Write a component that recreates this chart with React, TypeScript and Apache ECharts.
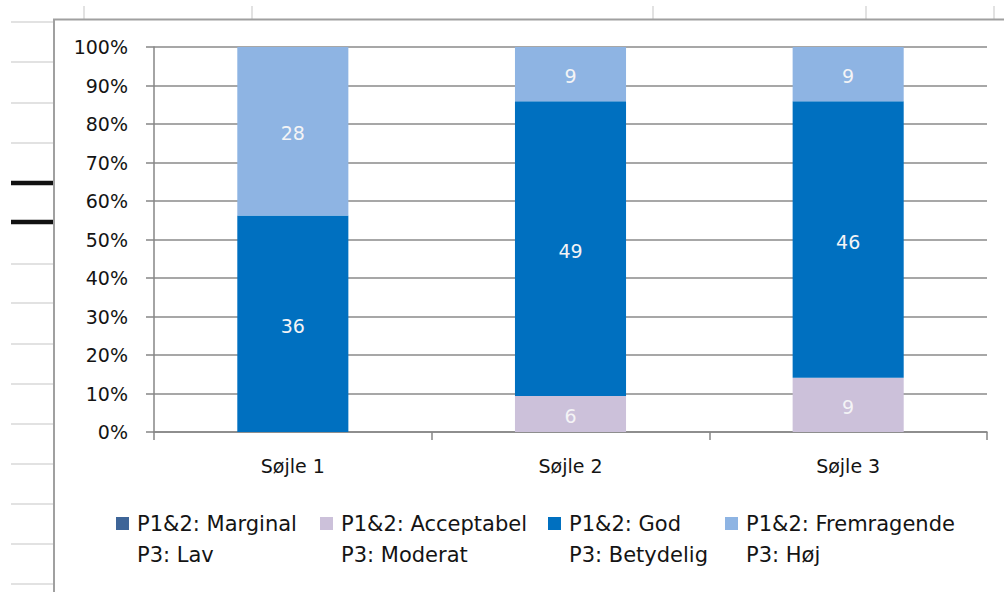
import React, { useEffect, useRef } from "react";
import * as echarts from "echarts";

const categories = ["Søjle 1", "Søjle 2", "Søjle 3"];
const seriesNames = [
  "P1&2: Marginal\nP3: Lav",
  "P1&2: Acceptabel\nP3: Moderat",
  "P1&2: God\nP3: Betydelig",
  "P1&2: Fremragende\nP3: Høj",
];
const marginal = [0, 0, 0];
const acceptabel = [0, 6, 9];
const god = [36, 49, 46];
const fremragende = [28, 9, 9];
const yTicks = [0, 10, 20, 30, 40, 50, 60, 70, 80, 90, 100];
const colors = ["#3e6598", "#ccc1da", "#0070c0", "#8eb4e3"];

const FONT = "DejaVu Sans";

export default function App() {
  const ref = useRef<HTMLDivElement>(null);
  useEffect(() => {
    if (!ref.current) return;
    const chart = echarts.init(ref.current, null, { renderer: "svg" });
    const raw = [marginal, acceptabel, god, fremragende];
    const totals = categories.map((_, i) => raw.reduce((s, arr) => s + arr[i], 0));

    const series = raw.map((arr, si) => ({
      name: seriesNames[si],
      type: "bar",
      stack: "total",
      barWidth: "40%",
      itemStyle: { color: colors[si] },
      data: arr.map((v, i) => ({ value: (v / totals[i]) * 100, raw: v })),
      label: {
        show: true,
        position: "inside",
        offset: [0, 2],
        color: "#f4f4f6",
        fontFamily: FONT,
        fontSize: 19,
        formatter: (p: any) => (p.data.raw > 0 ? String(p.data.raw) : ""),
      },
    }));

    // square at top-left of a 16x44 icon box, so it lines up with the first text line
    const iconPath = "path://M0,0h13v13h-13z M16,44h0.01v0.01h-0.01z";
    const legendLefts = [116, 320, 548, 725];
    const legends = seriesNames.map((n, i) => ({
      data: [n],
      left: legendLefts[i],
      top: 508,
      padding: 0,
      icon: iconPath,
      itemWidth: 16,
      itemHeight: 44,
      selectedMode: false,
      textStyle: {
        fontFamily: FONT,
        fontSize: 21,
        color: "#141414",
        lineHeight: 31,
      },
    }));

    const gridYs = [22, 62, 103, 143, 264, 303, 344, 384, 424, 464, 504, 544, 584];
    const topXs = [84, 252, 653, 866, 994];
    const graphics: any[] = [];
    gridYs.forEach((y) =>
      graphics.push({
        type: "line",
        z: -10,
        shape: { x1: 11, y1: y, x2: 54, y2: y },
        style: { stroke: "#d9d9d9", lineWidth: 1.5 },
      })
    );
    [183, 222].forEach((y) =>
      graphics.push({
        type: "line",
        z: -10,
        shape: { x1: 11, y1: y, x2: 54, y2: y },
        style: { stroke: "#111111", lineWidth: 4.5 },
      })
    );
    topXs.forEach((x) =>
      graphics.push({
        type: "line",
        z: -10,
        shape: { x1: x, y1: 6, x2: x, y2: 19 },
        style: { stroke: "#d9d9d9", lineWidth: 1.5 },
      })
    );
    graphics.push({
      type: "polyline",
      z: -5,
      shape: { points: [[54, 592], [54, 19.5], [1004, 19.5]] },
      style: { stroke: "#a0a0a0", lineWidth: 2, fill: "none" },
    });

    chart.setOption({
      animation: false,
      backgroundColor: "#ffffff",
      textStyle: { fontFamily: FONT },
      graphic: graphics,
      legend: legends,
      grid: { left: 154, top: 47, right: 17, bottom: 160, containLabel: false },
      xAxis: {
        type: "category",
        data: categories,
        axisLine: { show: true, lineStyle: { color: "#868686", width: 1.5 } },
        axisTick: { show: true, length: 8, lineStyle: { color: "#868686", width: 1.5 } },
        axisLabel: { fontFamily: FONT, fontSize: 19, color: "#141414", margin: 24 },
      },
      yAxis: {
        type: "value",
        min: yTicks[0],
        max: yTicks[yTicks.length - 1],
        interval: yTicks[1] - yTicks[0],
        axisLine: { show: true, lineStyle: { color: "#868686", width: 1.5 } },
        axisTick: { show: true, length: 8, lineStyle: { color: "#868686", width: 1.5 } },
        splitLine: { show: true, lineStyle: { color: "#8a8a8a", width: 1.5 } },
        axisLabel: {
          fontFamily: FONT,
          fontSize: 19,
          color: "#141414",
          margin: 26,
          formatter: "{value}%",
        },
      },
      series,
    });
    return () => chart.dispose();
  }, []);
  return (
    <div
      ref={ref}
      style={{ position: "absolute", left: 0, top: 0, width: 1004, height: 592 }}
    />
  );
}
